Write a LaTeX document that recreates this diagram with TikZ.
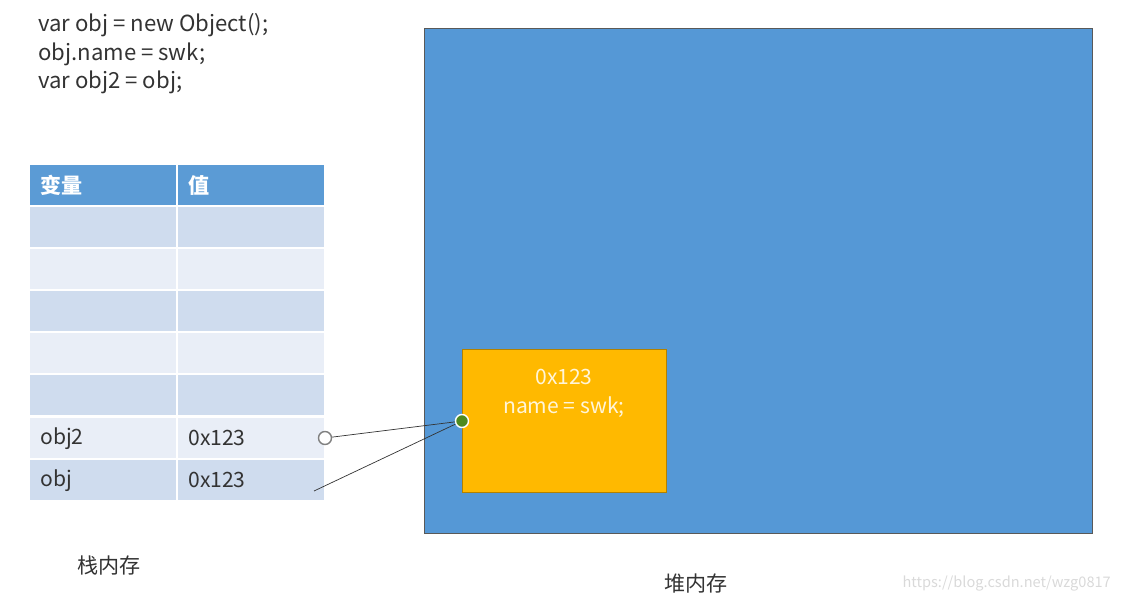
\documentclass[tikz,border=0pt]{standalone}
\usepackage{fontspec}
\setmainfont{Noto Sans CJK SC}
\usetikzlibrary{positioning}
\definecolor{heapblue}{HTML}{5598D6}
\definecolor{hdrblue}{HTML}{5B9BD5}
\definecolor{rowdark}{HTML}{CFDCEE}
\definecolor{rowlight}{HTML}{E9EEF7}
\definecolor{objorange}{HTML}{FFB900}
\definecolor{dotgreen}{HTML}{4E8A1E}
\definecolor{inkgray}{HTML}{333333}

\begin{document}
\begin{tikzpicture}[x=0.02cm, y=-0.02cm, font=\fontsize{12}{14}\selectfont, text=inkgray,
  cell/.style={rectangle, anchor=north west, minimum height=0.8cm,
               inner xsep=0.2cm, text width=2.52cm, align=left},
  hdr/.style={cell, fill=hdrblue, text=white, font=\fontsize{12}{14}\selectfont\bfseries},
  port/.style={circle, inner sep=0pt, minimum size=0.26cm, thick}]
\useasboundingbox (0,0) rectangle (1123,612);
% ---------------- code (top left) ----------------
\node[anchor=north west, align=left, font=\fontsize{12.6}{16.4}\selectfont] (code) at (32,7)
  {var obj = new Object();\\obj.name = swk;\\var obj2 = obj;};
% ---------------- stack table (left) ----------------
\node[hdr] (hvar) at (30,165) {变量};
\node[hdr] (hval) at (178,165) {值};
\foreach \i/\yy/\shade/\var/\val in {1/207/rowdark/{}/{}, 2/249/rowlight/{}/{},
    3/291/rowdark/{}/{}, 4/333/rowlight/{}/{}, 5/375/rowdark/{}/{},
    6/418/rowlight/obj2/0x123, 7/460/rowdark/obj/0x123} {
  \node[cell, fill=\shade] (var\i) at (30,\yy) {\var};
  \node[cell, fill=\shade] (val\i) at (178,\yy) {\val};
}
\node (stacklbl) at (109,566) {栈内存};
% ---------------- heap (right) ----------------
\node[draw=gray!70!black, fill=heapblue, anchor=north west,
      minimum width=13.36cm, minimum height=10.1cm] (heap) at (424,28) {};
\node[draw=objorange!70!black, fill=objorange, anchor=north west,
      minimum width=4.08cm, minimum height=2.86cm] (objbox) at (462,349) {};
\node[align=center, text=white!85!objorange, font=\fontsize{12}{16.4}\selectfont]
  (objtext) at (564,393) {0x123\\name = swk;};
\node (heaplbl) at (696,584) {堆内存};
\node[text=gray!30, anchor=east, font=\fontsize{8.3}{10}\selectfont] (mark) at (1117,584)
  {https://blog.csdn.net/wzg0817};
% references
\node[port, fill=dotgreen, draw=white] (ref) at (462,421) {};
\node[port, fill=white, draw=gray] (obj2port) at (325,438) {};
\coordinate (objend) at (314,491);
\draw[inkgray] (obj2port) -- (ref);
\draw[inkgray] (objend) -- (ref);
\end{tikzpicture}
\end{document}
